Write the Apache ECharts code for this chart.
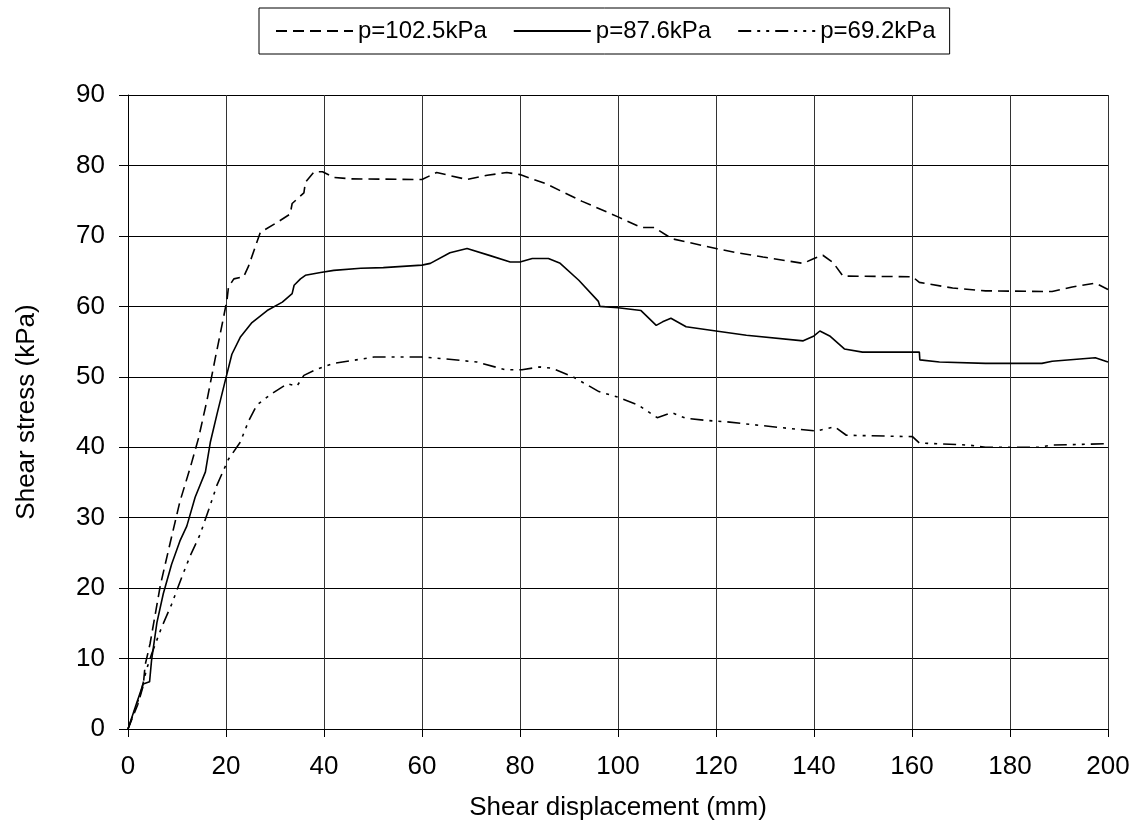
<!DOCTYPE html>
<html>
<head>
<meta charset="utf-8">
<script src="https://cdn.jsdelivr.net/npm/echarts@6/dist/echarts.min.js"></script>
<style>
  html, body { margin: 0; padding: 0; background: #fff; }
  #chart { width: 1140px; height: 827px; }
</style>
</head>
<body>
<div id="chart"></div>
<script>
// p=102.5kPa (dashed)
var dispA = [0, 2, 3.1, 3.5, 4.5, 6.6, 8.6, 10.6, 12.7, 14.4, 16.1, 17.8, 19.2, 20.2, 20.5, 21.6, 23.6, 24.6, 27, 30.4, 33.1, 33.5, 35.9, 36.2, 38, 39.7, 42, 45.5, 60, 63, 69.2, 73.3, 77.3, 80, 85.3, 92.7, 100, 104.7, 107.4, 111, 120, 124.3, 129.6, 137.8, 140, 141.8, 143.9, 145.9, 160.1, 161.5, 168.3, 175, 188.6, 192.7, 197.4, 200];
var stressA = [0, 3.5, 6.1, 9.1, 12.1, 20.4, 26.4, 32.3, 37.1, 41.3, 46.6, 52.6, 57.4, 60.9, 62.7, 63.9, 64.2, 65.7, 70.5, 71.9, 73.1, 74.6, 76.1, 77.6, 79.1, 79.1, 78.3, 78.1, 78, 79, 78, 78.6, 79, 78.7, 77.4, 74.9, 72.7, 71.2, 71.2, 69.6, 68.2, 67.6, 67, 66.1, 66.8, 67.25, 66.2, 64.3, 64.2, 63.4, 62.6, 62.2, 62.1, 62.75, 63.3, 62.4];

// p=87.6kPa (solid)
var dispB = [0, 1.8, 3.1, 4.4, 4.8, 5.9, 7.2, 8.9, 10.6, 12, 13.7, 15.8, 16.8, 18.2, 19.9, 21.2, 22.9, 25.3, 28.4, 31.5, 33.5, 33.9, 35.2, 36.2, 39.3, 42, 47.5, 52.1, 60, 61.7, 65.7, 69.2, 73.9, 78, 80, 82.5, 85.8, 88.2, 92, 96, 96.3, 100, 104.7, 107.8, 109.1, 110.8, 113.9, 120, 126.2, 137.8, 140, 141.2, 143.2, 146.2, 149.9, 161.5, 161.6, 165.6, 175, 186.5, 188.6, 197.4, 200];
var stressB = [0, 3.75, 6.4, 6.7, 9.7, 15.1, 19.2, 23.4, 26.7, 28.8, 32.9, 36.5, 40.7, 44.8, 49.6, 53.2, 55.6, 57.7, 59.4, 60.6, 61.8, 63, 63.9, 64.4, 64.8, 65.1, 65.4, 65.5, 65.85, 66.1, 67.6, 68.2, 67.2, 66.3, 66.3, 66.8, 66.8, 66.1, 63.7, 60.7, 60, 59.8, 59.4, 57.3, 57.8, 58.3, 57.1, 56.5, 55.9, 55.1, 55.8, 56.5, 55.8, 53.95, 53.5, 53.5, 52.4, 52.1, 51.9, 51.9, 52.2, 52.7, 52.1];

// p=69.2kPa (dash-dot)
var dispC = [0, 2.5, 3.8, 4.8, 6.9, 8.9, 11, 12.7, 14.7, 16.5, 18.2, 20.5, 22.9, 24.6, 26.3, 29.1, 32.5, 34.5, 35.9, 38.6, 42, 47.5, 50.2, 60, 63.7, 71.2, 77, 80.4, 84, 86.6, 90.8, 96.1, 100, 104.1, 108, 111, 113.9, 118, 122.2, 134.4, 140.5, 144.2, 146.6, 160.1, 161.5, 171.7, 175, 185.9, 188.6, 200];
var stressC = [0, 4.9, 8.5, 10.6, 14.5, 17.7, 21.6, 24.6, 27.6, 31.2, 34.7, 38.3, 40.7, 43.7, 46, 47.5, 49, 48.7, 50.2, 51.1, 51.9, 52.5, 52.8, 52.8, 52.6, 52.1, 51, 51, 51.4, 51.2, 50, 47.9, 47.1, 46, 44.2, 44.9, 44.1, 43.8, 43.6, 42.7, 42.3, 42.9, 41.7, 41.5, 40.6, 40.3, 40, 40, 40.3, 40.5];

var seriesNames = ['p=102.5kPa', 'p=87.6kPa', 'p=69.2kPa'];
var xTicks = [0, 20, 40, 60, 80, 100, 120, 140, 160, 180, 200];
var yTicks = [0, 10, 20, 30, 40, 50, 60, 70, 80, 90];

function pairs(xs, ys) {
    var out = [];
    for (var i = 0; i < xs.length; i++) {
        out.push([xs[i], ys[i]]);
    }
    return out;
}

var chart = echarts.init(document.getElementById('chart'));
var font = 'Liberation Sans, Arial, sans-serif';
var option = {
    backgroundColor: '#fff',
    animation: false,
    textStyle: { fontFamily: font, color: '#000' },
    legend: {
        top: 8,
        left: 259,
        borderColor: '#000',
        borderWidth: 1,
        padding: [11, 14, 11, 16],
        itemWidth: 77,
        itemHeight: 4,
        itemGap: 26,
        itemStyle: { opacity: 0 },
        textStyle: { fontSize: 24, color: '#000', fontFamily: font },
        data: seriesNames
    },
    grid: { left: 128, right: 32, top: 95, bottom: 98 },
    xAxis: {
        type: 'value',
        min: xTicks[0],
        max: xTicks[xTicks.length - 1],
        interval: 20,
        name: 'Shear displacement (mm)',
        nameLocation: 'middle',
        nameGap: 66,
        nameTextStyle: { fontSize: 26, color: '#000' },
        axisLine: { show: true, onZero: false, lineStyle: { color: '#000', width: 1 } },
        axisTick: { show: true, length: 8, lineStyle: { color: '#000' } },
        axisLabel: { fontSize: 26, color: '#000', margin: 25 },
        splitLine: { show: true, lineStyle: { color: '#333', width: 1 } }
    },
    yAxis: {
        type: 'value',
        min: yTicks[0],
        max: yTicks[yTicks.length - 1],
        interval: 10,
        name: 'Shear stress (kPa)',
        nameLocation: 'middle',
        nameGap: 88,
        nameRotate: 90,
        nameTextStyle: { fontSize: 26, color: '#000' },
        axisLine: { show: true, lineStyle: { color: '#000', width: 1 } },
        axisTick: { show: true, length: 9, lineStyle: { color: '#000' } },
        axisLabel: { fontSize: 26, color: '#000', margin: 23 },
        splitLine: { show: true, lineStyle: { color: '#000', width: 1 } }
    },
    series: [
        {
            name: seriesNames[0], type: 'line', data: pairs(dispA, stressA),
            showSymbol: false, symbol: 'none', color: '#000',
            lineStyle: { color: '#000', width: 1.6, type: [11, 6] }
        },
        {
            name: seriesNames[1], type: 'line', data: pairs(dispB, stressB),
            showSymbol: false, symbol: 'none', color: '#000',
            lineStyle: { color: '#000', width: 1.6, type: 'solid' }
        },
        {
            name: seriesNames[2], type: 'line', data: pairs(dispC, stressC),
            showSymbol: false, symbol: 'none', color: '#000',
            lineStyle: { color: '#000', width: 1.6, type: [13, 6, 3, 6, 3, 6] }
        }
    ]
};
chart.setOption(option);
</script>
</body>
</html>
